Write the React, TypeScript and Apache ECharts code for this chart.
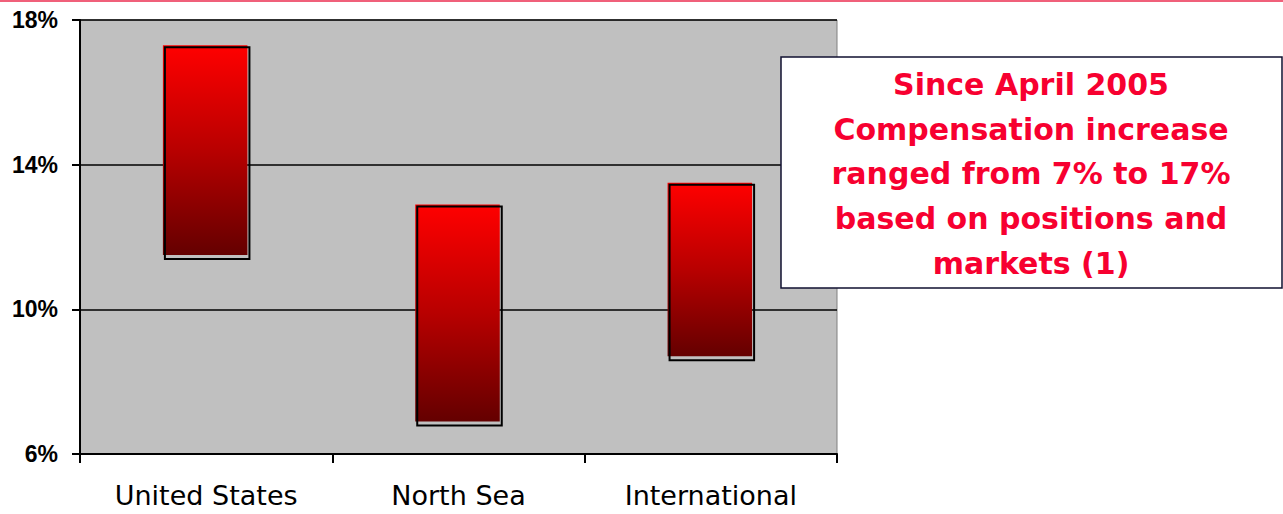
import React, { useEffect, useRef } from "react";
import * as echarts from "echarts";

const categories = ["United States", "North Sea", "International"];
const lowValues = [11.5, 6.9, 8.7];
const highValues = [17.3, 12.9, 13.5];
const yTicks = [6, 10, 14, 18];
const noteLines = [
  "Since April 2005",
  "Compensation increase",
  "ranged from 7% to 17%",
  "based on positions and",
  "markets (1)",
];

export default function App() {
  const ref = useRef<HTMLDivElement>(null);
  useEffect(() => {
    if (!ref.current) return;
    const chart = echarts.init(ref.current, undefined, { renderer: "svg" });
    const data = categories.map((c, i) => [i, lowValues[i], highValues[i]]);
    chart.setOption({
      animation: false,
      backgroundColor: "#ffffff",
      grid: {
        left: 80,
        right: 446,
        top: 20,
        bottom: 60,
        show: true,
        backgroundColor: "#c0c0c0",
        borderColor: "#808080",
        borderWidth: 1,
      },
      xAxis: {
        type: "category",
        data: categories,
        boundaryGap: true,
        axisLine: { show: true, lineStyle: { color: "#000", width: 2 } },
        axisTick: { show: true, alignWithLabel: false, interval: 0, length: 9, lineStyle: { color: "#000", width: 2 } },
        axisLabel: {
          interval: 0,
          color: "#000",
          fontFamily: "'DejaVu Sans', sans-serif",
          fontSize: 27,
          margin: 28,
        },
      },
      yAxis: {
        type: "value",
        min: 6,
        max: 18,
        interval: 4,
        axisLine: { show: true, lineStyle: { color: "#000", width: 2 } },
        axisTick: { show: true, length: 8, lineStyle: { color: "#000", width: 2 } },
        splitLine: { show: true, lineStyle: { color: "#000", width: 1.5 } },
        axisLabel: {
          color: "#000",
          fontFamily: "'Liberation Sans', Arial, sans-serif",
          fontWeight: "bold",
          fontSize: 23,
          margin: 22,
          formatter: (v: number) => (yTicks.includes(v) ? v + "%" : ""),
        },
      },
      series: [
        {
          type: "custom",
          data,
          clip: false,
          renderItem: (params: any, api: any) => {
            const idx = api.value(0);
            const lo = api.value(1);
            const hi = api.value(2);
            const pTop = api.coord([idx, hi]);
            const pBot = api.coord([idx, lo]);
            const w = api.size([1, 0])[0] * 0.335;
            const x = pTop[0] - w / 2 - 1;
            const y = pTop[1];
            const h = pBot[1] - pTop[1];
            return {
              type: "group",
              children: [
                {
                  type: "rect",
                  shape: { x: x, y: y, width: w, height: h },
                  style: {
                    fill: new echarts.graphic.LinearGradient(0, 0, 0, 1, [
                      { offset: 0, color: "#ff0000" },
                      { offset: 0.5, color: "#b80000" },
                      { offset: 1, color: "#640000" },
                    ]),
                  },
                },
                {
                  type: "rect",
                  shape: { x: x + 2, y: y + 2, width: w, height: h + 2 },
                  style: { fill: "none", stroke: "#000", lineWidth: 2 },
                },
              ],
            };
          },
        },
      ],
      graphic: [
        {
          type: "rect",
          x: 0,
          y: 0,
          shape: { x: 0, y: 0, width: 1283, height: 2 },
          style: { fill: "#f0607a" },
        },
        {
          type: "rect",
          x: 0,
          y: 0,
          shape: { x: 781, y: 57, width: 501, height: 231 },
          style: { fill: "#ffffff", stroke: "#101030", lineWidth: 1.5 },
          z: 10,
        },
        {
          type: "text",
          x: 1031,
          y: 62,
          z: 11,
          style: {
            text: noteLines.join("\n"),
            align: "center",
            verticalAlign: "top",
            fill: "#f70030",
            font: "bold 30px 'DejaVu Sans', sans-serif",
            lineHeight: 44.7,
          },
        },
      ],
    });
    return () => chart.dispose();
  }, []);
  return (
    <div
      ref={ref}
      style={{ position: "absolute", left: 0, top: 0, width: 1283, height: 514 }}
    />
  );
}
